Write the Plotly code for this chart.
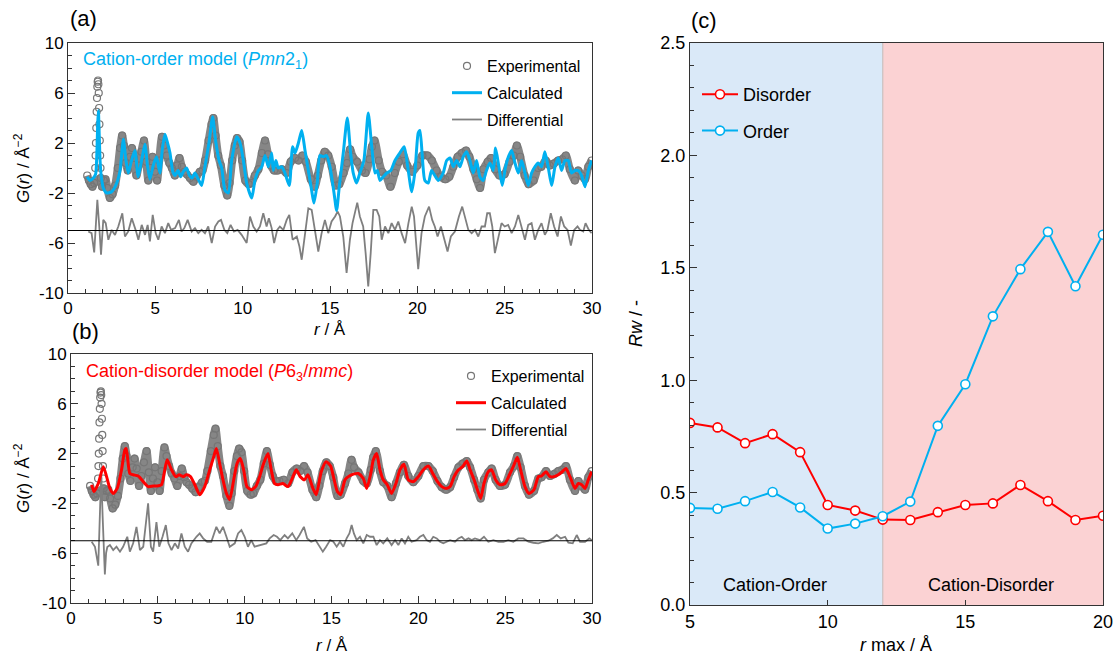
import numpy as np
import plotly.graph_objects as go

# ---------------- data ----------------
# experimental G(r): (r [Å], G)
EXP = [(1.10,-0.6),(1.20,-1.0),(1.30,-1.3),(1.40,-1.5),(1.50,-1.2),(1.56,0.0),(1.58,1.0),(1.60,2.0),
(1.62,3.2),(1.64,4.5),(1.66,5.6),(1.68,6.5),(1.70,6.9),(1.72,7.0),(1.74,6.7),(1.76,6.0),(1.78,4.8),
(1.80,3.5),(1.82,2.2),(1.84,1.0),(1.86,0.0),(1.88,-0.8),(1.95,-1.5),(2.05,-1.0),(2.15,-0.9),(2.25,-1.6),
(2.40,-2.4),(2.55,-2.1),(2.70,-1.4),(2.85,0.0),(2.98,1.6),(3.10,2.6),(3.20,1.8),(3.30,0.4),(3.42,-0.2),
(3.55,0.9),(3.66,1.6),(3.78,0.8),(3.92,-0.6),(4.05,0.2),(4.20,1.3),(4.35,2.2),(4.48,0.5),(4.60,-1.0),
(4.72,0.0),(4.84,0.9),(4.98,-0.3),(5.10,-1.0),(5.22,0.6),(5.38,2.5),(5.50,1.8),(5.65,1.0),(5.80,0.4),
(5.95,0.0),(6.12,-0.6),(6.25,0.2),(6.38,0.8),(6.52,0.1),(6.65,-0.3),(6.80,-0.5),(6.98,-0.8),(7.18,-1.1),
(7.35,-0.7),(7.55,-0.3),(7.70,-0.2),(7.85,0.6),(8.05,2.2),(8.22,3.5),(8.32,4.0),(8.45,2.6),(8.60,1.0),
(8.75,0.2),(8.95,-1.4),(9.12,-2.2),(9.25,-1.2),(9.40,0.6),(9.55,1.8),(9.68,2.4),(9.82,2.1),(9.97,0.6),
(10.15,-1.0),(10.35,-1.3),(10.50,-1.2),(10.70,-0.6),(10.90,-0.1),(11.10,1.2),(11.28,2.2),(11.45,1.1),
(11.62,0.2),(11.80,-0.2),(12.00,-0.2),(12.25,-0.1),(12.50,-0.4),(12.75,0.5),(13.00,0.8),(13.20,0.6),
(13.42,1.0),(13.62,0.5),(13.90,-0.9),(14.12,-1.5),(14.30,-0.6),(14.50,0.6),(14.70,1.3),(14.90,1.0),
(15.10,0.1),(15.34,-1.4),(15.53,-1.3),(15.78,-0.4),(15.97,0.4),(16.15,1.5),(16.30,0.9),(16.55,0.5),
(16.83,-0.2),(17.03,-0.4),(17.26,0.7),(17.40,1.7),(17.55,2.2),(17.79,0.6),(17.98,-0.3),(18.21,-0.6),
(18.46,-1.5),(18.71,-0.4),(18.94,0.5),(19.17,1.1),(19.42,0.2),(19.71,-0.3),(20.00,0.2),(20.29,1.0),
(20.58,1.0),(20.83,0.6),(21.10,-0.2),(21.35,-0.7),(21.60,-0.9),(21.83,-0.7),(22.06,0.1),(22.31,0.9),
(22.55,1.2),(22.79,1.4),(22.98,0.9),(23.21,-0.1),(23.40,-0.9),(23.59,-1.6),(23.78,-0.1),(24.03,0.5),
(24.22,0.8),(24.45,-0.1),(24.70,-0.6),(24.99,-0.5),(25.28,0.5),(25.51,1.0),(25.70,1.8),(25.89,0.9),
(26.14,-0.6),(26.37,-1.3),(26.66,-1.0),(26.91,0.0),(27.10,0.1),(27.35,0.6),(27.58,0.2),(27.81,0.35),
(28.06,0.6),(28.29,0.7),(28.50,1.0),(28.73,-0.1),(29.02,-1.0),(29.21,-0.2),(29.41,-0.6),(29.60,-0.9),
(29.79,0.1),(29.98,0.6)]

# calculated G(r), cation-order model (Pmn2_1)
CALC_ORDER = [(1.10,-0.7),(1.26,-1.0),(1.45,-0.8),(1.58,-0.5),(1.66,1.5),(1.70,3.5),(1.74,4.6),(1.78,3.0),
(1.84,0.5),(1.90,-0.6),(2.02,-1.6),(2.21,-2.0),(2.50,-1.9),(2.79,-1.2),(2.98,-0.2),(3.17,2.3),(3.30,0.8),
(3.45,-0.4),(3.62,0.5),(3.83,1.4),(4.02,-0.7),(4.20,0.5),(4.40,1.9),(4.55,0.2),(4.69,-0.9),(4.88,0.2),
(5.07,0.9),(5.26,-0.4),(5.40,1.5),(5.55,2.7),(5.70,2.0),(5.84,1.2),(6.00,-0.3),(6.13,-0.6),(6.30,-0.2),
(6.45,-0.7),(6.60,-0.3),(6.79,0.0),(6.95,-0.6),(7.10,-0.8),(7.27,-0.4),(7.46,-0.9),(7.65,-1.4),(7.84,0.1),
(8.07,2.0),(8.28,4.1),(8.45,2.2),(8.65,0.6),(8.80,0.0),(8.99,-1.8),(9.18,-2.0),(9.37,0.6),(9.66,2.5),
(9.85,2.0),(10.04,0.6),(10.23,-1.2),(10.52,-2.4),(10.70,-1.0),(10.90,-0.2),(11.09,0.1),(11.28,1.0),
(11.47,0.1),(11.66,1.2),(11.75,-0.2),(11.90,0.6),(12.04,0.0),(12.23,0.1),(12.42,-0.4),(12.67,-1.4),
(12.86,1.7),(13.00,1.2),(13.19,2.0),(13.38,3.0),(13.57,1.4),(13.76,-0.2),(13.95,-1.8),(14.08,-2.8),
(14.27,-1.2),(14.42,1.0),(14.61,0.9),(14.80,1.0),(15.00,0.1),(15.23,-2.0),(15.38,-3.4),(15.53,-1.5),
(15.76,1.2),(15.99,4.0),(16.18,1.2),(16.33,-0.4),(16.52,-1.2),(16.71,-0.4),(16.94,0.6),(17.19,4.4),
(17.39,1.7),(17.58,-0.4),(17.71,-0.2),(17.86,-1.0),(18.05,-0.7),(18.25,-0.4),(18.48,-0.2),(18.72,0.6),
(19.00,1.2),(19.25,1.7),(19.45,0.1),(19.68,-1.9),(19.87,-0.2),(20.05,2.8),(20.15,3.0),(20.30,0.6),
(20.43,-1.0),(20.63,-1.2),(20.81,-0.2),(21.00,-0.6),(21.20,-1.0),(21.48,-0.4),(21.68,0.6),(21.87,0.8),
(22.06,0.1),(22.25,0.6),(22.44,0.1),(22.63,0.9),(22.82,1.3),(23.01,0.6),(23.20,-0.4),(23.39,0.6),
(23.58,-0.7),(23.77,-1.0),(23.96,-0.2),(24.15,0.4),(24.35,-0.2),(24.48,1.6),(24.67,0.1),(24.86,-1.4),
(25.05,0.1),(25.24,1.0),(25.40,1.4),(25.59,0.4),(25.78,-0.4),(25.97,0.6),(26.16,-0.4),(26.35,-1.4),
(26.54,-0.4),(26.73,0.1),(26.92,0.4),(27.11,0.1),(27.30,1.3),(27.49,0.1),(27.69,-1.4),(27.88,0.1),
(28.07,0.8),(28.26,-0.2),(28.45,0.6),(28.64,0.6),(28.83,-0.4),(29.02,-0.2),(29.21,-0.2),(29.40,-0.6),
(29.60,-1.5),(29.79,-0.2),(29.98,0.6)]

# differential curve of panel (a), as drawn (shifted to the -5 baseline)
DIFF_ORDER = [(1.16,-5.08),(1.35,-5.21),(1.50,-6.76),(1.68,-2.55),(1.79,-4.68),(1.89,-6.94),(2.02,-4.15),
(2.16,-4.41),(2.31,-5.74),(2.50,-4.95),(2.69,-5.35),(2.88,-4.68),(3.11,-3.62),(3.26,-5.48),(3.45,-5.08),
(3.65,-4.02),(3.87,-4.95),(4.03,-5.74),(4.22,-4.55),(4.41,-5.35),(4.56,-4.55),(4.69,-5.88),(4.85,-3.75),
(5.02,-5.21),(5.17,-5.74),(5.36,-4.68),(5.55,-5.21),(5.74,-4.41),(5.90,-4.95),(6.13,-4.81),(6.35,-4.15),
(6.50,-5.08),(6.66,-4.81),(6.85,-4.15),(7.08,-5.08),(7.27,-4.81),(7.46,-5.21),(7.65,-4.95),(7.84,-5.21),
(8.03,-4.68),(8.23,-6.01),(8.42,-4.68),(8.61,-4.28),(8.76,-4.15),(8.95,-4.95),(9.12,-5.21),(9.31,-4.55),
(9.50,-5.08),(9.71,-4.95),(9.94,-5.35),(10.23,-6.0),(10.42,-3.88),(10.61,-4.68),(10.80,-5.08),
(10.99,-4.68),(11.18,-3.62),(11.37,-4.68),(11.50,-4.02),(11.66,-4.81),(11.80,-6.01),(11.98,-4.95),
(12.13,-4.68),(12.33,-4.95),(12.52,-4.15),(12.67,-3.75),(12.86,-5.74),(13.10,-5.48),(13.25,-6.28),
(13.38,-7.34),(13.57,-5.21),(13.76,-3.22),(13.95,-3.35),(14.14,-4.95),(14.33,-6.68),(14.52,-5.21),
(14.71,-4.15),(14.90,-5.21),(15.09,-4.28),(15.29,-3.88),(15.44,-3.48),(15.57,-3.88),(15.76,-5.48),
(15.95,-8.40),(16.14,-5.74),(16.29,-4.41),(16.43,-3.62),(16.56,-2.77),(16.71,-3.88),(16.90,-4.68),
(17.04,-6.81),(17.19,-9.47),(17.33,-6.81),(17.48,-3.35),(17.67,-3.35),(17.82,-3.88),(17.96,-5.74),
(18.15,-4.68),(18.34,-5.21),(18.53,-4.41),(18.72,-4.95),(18.91,-4.28),(19.10,-5.21),(19.30,-6.01),
(19.49,-4.41),(19.68,-3.09),(19.81,-3.88),(20.05,-8.1),(20.24,-5.21),(20.43,-3.88),(20.67,-3.09),
(20.85,-4.15),(21.00,-4.68),(21.16,-5.48),(21.35,-4.68),(21.54,-5.74),(21.73,-6.68),(21.92,-5.48),
(22.15,-5.08),(22.38,-3.88),(22.57,-3.09),(22.77,-4.15),(22.92,-4.95),(23.11,-5.21),(23.30,-4.95),
(23.49,-5.48),(23.68,-4.68),(23.87,-4.68),(24.00,-3.62),(24.15,-3.62),(24.29,-4.68),(24.44,-6.81),
(24.63,-5.48),(24.82,-4.41),(25.00,-4.68),(25.20,-4.55),(25.40,-5.21),(25.59,-4.68),(25.78,-3.75),
(25.97,-4.68),(26.16,-5.74),(26.35,-4.55),(26.54,-4.41),(26.73,-5.74),(26.92,-4.95),(27.11,-4.41),
(27.30,-5.35),(27.45,-4.95),(27.64,-3.62),(27.83,-4.68),(28.03,-5.48),(28.22,-3.88),(28.41,-4.68),
(28.60,-4.95),(28.79,-6.2),(28.98,-4.95),(29.17,-4.68),(29.31,-4.95),(29.50,-5.08),(29.63,-4.41),
(29.82,-4.95),(29.98,-5.21)]

# calculated G(r), cation-disorder model (P6_3/mmc)
CALC_DISORDER = [(1.19,-0.5),(1.32,-1.05),(1.57,-0.4),(1.86,0.95),(2.05,0.15),(2.24,-0.8),(2.43,-1.2),
(2.66,-0.8),(2.91,0.7),(3.10,2.3),(3.18,2.4),(3.39,0.4),(3.58,0.3),(3.87,0.2),(4.16,-0.25),(4.44,-0.65),
(4.73,-0.6),(4.96,-0.6),(5.21,-0.5),(5.40,0.7),(5.54,1.5),(5.79,0.7),(6.03,0.15),(6.23,0.3),(6.46,0.15),
(6.65,0.3),(6.88,0.15),(7.13,-0.5),(7.41,-1.3),(7.70,-0.65),(7.99,0.7),(8.22,1.75),(8.37,2.4),(8.56,1.2),
(8.75,-0.1),(8.95,-1.2),(9.14,-1.7),(9.37,-0.1),(9.56,1.2),(9.75,1.6),(9.94,0.7),(10.13,-0.65),
(10.38,-0.9),(10.63,-0.65),(10.86,0.15),(11.09,1.2),(11.34,2.0),(11.53,0.7),(11.72,-0.4),(11.92,-0.5),
(12.20,-0.4),(12.49,-0.65),(12.74,0.0),(12.97,0.7),(13.20,0.15),(13.45,-0.1),(13.64,0.3),(13.93,-0.8),
(14.12,-1.3),(14.41,0.55),(14.69,1.35),(14.95,1.0),(15.11,0.15),(15.34,-1.05),(15.53,-1.3),(15.78,-0.1),
(15.97,0.15),(16.26,0.35),(16.55,0.4),(16.83,0.0),(17.03,-0.8),(17.26,0.4),(17.41,1.5),(17.60,2.0),
(17.79,0.7),(17.98,-0.1),(18.21,-0.5),(18.46,-1.2),(18.71,-0.4),(18.94,0.7),(19.17,1.15),(19.42,-0.1),
(19.71,-0.25),(20.00,0.15),(20.29,0.7),(20.58,1.0),(20.83,0.4),(21.10,-0.25),(21.35,-0.65),(21.60,-0.8),
(21.83,-0.65),(22.06,0.15),(22.31,0.7),(22.55,0.95),(22.79,1.4),(22.98,0.7),(23.21,-0.1),(23.40,-0.9),
(23.59,-1.6),(23.78,-0.4),(24.03,0.55),(24.22,0.7),(24.45,-0.1),(24.70,-0.5),(24.99,-0.4),(25.28,0.4),
(25.51,1.1),(25.70,1.7),(25.89,0.7),(26.14,-0.65),(26.37,-1.2),(26.66,-0.9),(26.91,0.15),(27.10,0.2),
(27.35,0.55),(27.58,0.15),(27.81,0.15),(28.06,0.3),(28.29,0.55),(28.50,0.8),(28.73,0.15),(29.02,-0.8),
(29.21,-0.4),(29.41,-0.5),(29.60,-0.8),(29.79,-0.1),(29.98,0.55)]

# differential curve of panel (b), as drawn (shifted to the -5 baseline)
DIFF_DISORDER = [(1.19,-5.08),(1.38,-5.48),(1.57,-7.0),(1.66,-3.0),(1.74,0.5),(1.82,-3.0),(1.90,-7.0),
(1.95,-7.7),(2.02,-6.0),(2.09,-5.5),(2.24,-5.35),(2.43,-5.75),(2.62,-5.48),(2.82,-5.88),(3.00,-5.48),
(3.24,-4.68),(3.39,-5.88),(3.58,-5.21),(3.77,-3.88),(3.97,-5.75),(4.16,-5.48),(4.44,-2.0),(4.60,-5.48),
(4.73,-5.88),(4.92,-3.5),(5.08,-5.48),(5.27,-4.68),(5.46,-3.74),(5.61,-5.21),(5.79,-5.75),(5.98,-5.21),
(6.17,-5.62),(6.36,-4.41),(6.55,-5.48),(6.74,-5.88),(6.93,-5.21),(7.22,-4.68),(7.41,-4.41),(7.61,-4.81),
(7.84,-5.08),(8.08,-5.08),(8.37,-3.88),(8.56,-4.41),(8.75,-3.88),(8.95,-4.68),(9.14,-5.48),(9.43,-5.21),
(9.62,-4.41),(9.81,-4.14),(10.00,-4.68),(10.19,-5.48),(10.38,-4.95),(10.57,-5.48),(10.86,-5.35),
(11.25,-5.21),(11.44,-4.81),(11.67,-4.54),(11.86,-4.68),(12.05,-4.95),(12.30,-4.54),(12.49,-4.81),
(12.74,-4.41),(12.97,-4.95),(13.16,-4.54),(13.41,-3.88),(13.60,-4.81),(13.83,-5.08),(14.08,-4.95),
(14.27,-5.35),(14.50,-5.88),(14.69,-5.48),(14.92,-4.95),(15.11,-5.08),(15.30,-5.48),(15.49,-5.08),
(15.68,-5.48),(15.87,-4.81),(16.03,-4.41),(16.16,-3.74),(16.29,-4.41),(16.45,-4.95),(16.64,-4.68),
(16.83,-5.21),(17.03,-4.54),(17.22,-4.68),(17.41,-4.68),(17.60,-5.35),(17.79,-4.95),(17.98,-5.21),
(18.21,-4.81),(18.46,-5.35),(18.66,-4.95),(18.85,-5.35),(19.04,-4.81),(19.23,-5.21),(19.42,-4.68),
(19.61,-5.08),(19.90,-4.95),(20.09,-4.68),(20.29,-4.54),(20.48,-4.95),(20.67,-5.08),(20.86,-4.68),
(21.06,-4.81),(21.25,-5.08),(21.44,-5.21),(21.63,-5.08),(21.83,-4.95),(22.11,-5.08),(22.31,-4.81),
(22.50,-4.68),(22.69,-4.95),(22.89,-4.81),(23.07,-4.95),(23.26,-4.81),(23.55,-4.95),(23.78,-4.68),
(24.03,-5.08),(24.32,-4.95),(24.61,-5.08),(24.90,-5.08),(25.18,-4.95),(25.47,-5.08),(25.76,-4.81),
(26.05,-4.81),(26.34,-5.08),(26.62,-5.16),(26.91,-5.21),(27.20,-5.08),(27.49,-5.0),(27.74,-4.81),
(27.97,-4.54),(28.20,-4.81),(28.45,-4.68),(28.64,-5.16),(28.89,-5.21),(29.12,-4.54),(29.31,-5.08),
(29.60,-5.08),(29.85,-4.81),(29.98,-4.95)]

DIFF_BASELINE = -5

# panel (c): Rw versus r max
RMAX = [5, 6, 7, 8, 9, 10, 11, 12, 13, 14, 15, 16, 17, 18, 19, 20]
RW_DISORDER = [0.81, 0.79, 0.72, 0.76, 0.68, 0.445, 0.42, 0.38, 0.378, 0.413, 0.445, 0.452, 0.534, 0.462, 0.378, 0.397]
RW_ORDER = [0.432, 0.428, 0.462, 0.503, 0.434, 0.34, 0.362, 0.395, 0.46, 0.797, 0.982, 1.284, 1.494, 1.66, 1.418, 1.647]
ORDER_REGION = (5, 12)
DISORDER_REGION = (12, 20)

G_TICKS = [-10, -6, -2, 2, 6, 10]
G_TICK_TEXT = ["-10", "-6", "-2", "2", "6", "10"]

# ---------------- styling ----------------
W, H = 1118, 655
FONT = "Liberation Sans, Arial, Helvetica, sans-serif"
BLUE = "#00B0F0"
RED = "#FF0000"
GREY = "#7f7f7f"

def xd(a, b):
    return [a / W, b / W]

def yd(top, bottom):
    return [1 - bottom / H, 1 - top / H]

def unzip(pts):
    a = np.array(pts, dtype=float)
    return a[:, 0], a[:, 1]

r_exp, g_exp = unzip(EXP)
r_co, g_co = unzip(CALC_ORDER)
r_do, g_do = unzip(DIFF_ORDER)
r_cd, g_cd = unzip(CALC_DISORDER)
r_dd, g_dd = unzip(DIFF_DISORDER)

band_mask = (r_exp < 1.53) | (r_exp > 1.87)

fig = go.Figure()

def add_gr_panel(xa, ya, leg, calc_r, calc_g, calc_color, diff_r, diff_g, grp):
    fig.add_trace(go.Scatter(x=r_exp[band_mask], y=g_exp[band_mask], mode="lines",
                             line=dict(color="#868686", width=8, shape="spline", smoothing=0.7),
                             xaxis=xa, yaxis=ya, showlegend=False, hoverinfo="skip"))
    fig.add_trace(go.Scatter(x=r_exp, y=g_exp, mode="markers", name="Experimental",
                             marker=dict(symbol="circle-open", size=7, color="#767676", line=dict(width=1.2)),
                             xaxis=xa, yaxis=ya, legend=leg, legendgroup=grp + "1", legendrank=1))
    fig.add_trace(go.Scatter(x=diff_r, y=diff_g, mode="lines", name="Differential",
                             line=dict(color=GREY, width=1.8),
                             xaxis=xa, yaxis=ya, legend=leg, legendgroup=grp + "3", legendrank=3))
    fig.add_trace(go.Scatter(x=calc_r, y=calc_g, mode="lines", name="Calculated",
                             line=dict(color=calc_color, width=3, shape="spline", smoothing=0.6),
                             xaxis=xa, yaxis=ya, legend=leg, legendgroup=grp + "2", legendrank=2))

add_gr_panel("x", "y", "legend", r_co, g_co, BLUE, r_do, g_do, "a")
add_gr_panel("x2", "y2", "legend2", r_cd, g_cd, RED, r_dd, g_dd, "b")

fig.add_trace(go.Scatter(x=RMAX, y=RW_DISORDER, mode="lines+markers", name="Disorder",
                         line=dict(color=RED, width=2),
                         marker=dict(symbol="circle", size=9, color="white", line=dict(color=RED, width=1.6)),
                         xaxis="x3", yaxis="y3", legend="legend3", legendgroup="c1", legendrank=1))
fig.add_trace(go.Scatter(x=RMAX, y=RW_ORDER, mode="lines+markers", name="Order",
                         line=dict(color=BLUE, width=2),
                         marker=dict(symbol="circle", size=9, color="white", line=dict(color=BLUE, width=1.6)),
                         xaxis="x3", yaxis="y3", legend="legend3", legendgroup="c2", legendrank=2))

axis_common = dict(showline=True, linecolor="#333333", linewidth=1, mirror=True, showgrid=False,
                   zeroline=False, automargin=False, ticks="inside", tickcolor="#333333",
                   tickfont=dict(size=17, color="black", family=FONT))

def gr_xaxis(domain, anchor):
    return dict(axis_common, domain=domain, anchor=anchor, range=[0, 30], tickmode="linear",
                tick0=0, dtick=5, ticklen=7,
                minor=dict(tickmode="linear", tick0=0, dtick=1, ticks="inside", ticklen=4, tickcolor="#333333"))

def gr_yaxis(domain, anchor):
    return dict(axis_common, domain=domain, anchor=anchor, range=[-10, 10], tickmode="array",
                tickvals=G_TICKS, ticktext=G_TICK_TEXT, ticklen=7,
                minor=dict(tickmode="linear", tick0=-10, dtick=1, ticks="inside", ticklen=4, tickcolor="#333333"))

c_font = dict(size=18, color="black", family=FONT)

fig.update_layout(
    width=W, height=H, margin=dict(l=0, r=0, t=0, b=0),
    paper_bgcolor="white", plot_bgcolor="white",
    font=dict(family=FONT, color="black"),
    xaxis=gr_xaxis(xd(68, 592), "y"),
    yaxis=gr_yaxis(yd(43, 293), "x"),
    xaxis2=gr_xaxis(xd(71, 592), "y2"),
    yaxis2=gr_yaxis(yd(354, 603), "x2"),
    xaxis3=dict(axis_common, domain=xd(690, 1103), anchor="y3", range=[5, 20], tickmode="linear",
                tick0=5, dtick=5, ticklen=5, tickfont=c_font),
    yaxis3=dict(axis_common, domain=yd(43, 605), anchor="x3", range=[0, 2.5], tickmode="linear",
                tick0=0, dtick=0.5, tickformat=".1f", ticklen=7, tickfont=c_font,
                minor=dict(tickmode="linear", tick0=0, dtick=0.1, ticks="inside", ticklen=4, tickcolor="#333333")),
    legend=dict(x=447 / W, y=1 - 49 / H, xanchor="left", yanchor="top", bgcolor="rgba(0,0,0,0)",
                font=dict(size=16, family=FONT, color="black"), tracegroupgap=3, itemwidth=30),
    legend2=dict(x=451 / W, y=1 - 359 / H, xanchor="left", yanchor="top", bgcolor="rgba(0,0,0,0)",
                 font=dict(size=16, family=FONT, color="black"), tracegroupgap=3, itemwidth=30),
    legend3=dict(x=697 / W, y=1 - 76 / H, xanchor="left", yanchor="top", bgcolor="rgba(0,0,0,0)",
                 font=dict(size=18, family=FONT, color="black"), tracegroupgap=10, itemwidth=36),
    showlegend=True,
)

# shaded regions in panel (c)
fig.add_shape(type="rect", xref="x3", yref="y3", x0=ORDER_REGION[0], x1=ORDER_REGION[1], y0=0, y1=2.5,
              fillcolor="#DAE9F8", line=dict(width=0), layer="below")
fig.add_shape(type="rect", xref="x3", yref="y3", x0=DISORDER_REGION[0], x1=DISORDER_REGION[1], y0=0, y1=2.5,
              fillcolor="#FBD2D3", line=dict(width=0), layer="below")
fig.add_shape(type="line", xref="x3", yref="y3", x0=ORDER_REGION[1], x1=ORDER_REGION[1], y0=0, y1=2.5,
              line=dict(color="#c9c0c0", width=1.2), layer="below")

# differential baselines
for xa, ya in (("x", "y"), ("x2", "y2")):
    fig.add_shape(type="line", xref=xa + " domain", yref=ya, x0=0, x1=1, y0=DIFF_BASELINE, y1=DIFF_BASELINE,
                  line=dict(color="black", width=1.2))

ann = []
def add_text(text, x, y, size, color="black", xanchor="center", yanchor="middle", angle=0, xref="paper", yref="paper"):
    ann.append(dict(text=text, x=x, y=y, xref=xref, yref=yref, showarrow=False, xanchor=xanchor,
                    yanchor=yanchor, textangle=angle, font=dict(size=size, color=color, family=FONT)))

add_text("(a)", 68 / W, 1 - 19 / H, 22, xanchor="left")
add_text("(b)", 70 / W, 1 - 331 / H, 22, xanchor="left")
add_text("(c)", 689 / W, 1 - 20 / H, 22, xanchor="left")
add_text("Cation-order model (<i>Pmn</i>2<sub>1</sub>)", 81 / W, 1 - 60 / H, 18, BLUE, xanchor="left")
add_text("Cation-disorder model (<i>P</i>6<sub>3</sub>/<i>mmc</i>)", 84 / W, 1 - 372 / H, 18, RED, xanchor="left")
add_text("<i>G</i>(<i>r</i>) / Å<sup>−2</sup>", 22 / W, 1 - 168 / H, 17, angle=-90)
add_text("<i>G</i>(<i>r</i>) / Å<sup>−2</sup>", 22 / W, 1 - 478 / H, 17, angle=-90)
add_text("<i>r</i> / Å", 330 / W, 1 - 329 / H, 17)
add_text("<i>r</i> / Å", 332 / W, 1 - 645 / H, 17)
add_text("<i>r</i> max / Å", 896 / W, 1 - 645 / H, 18)
add_text("<i>Rw</i> / -", 636 / W, 1 - 324 / H, 18, angle=-90)
add_text("Cation-Order", 8.1, 0.09, 18, xref="x3", yref="y3")
add_text("Cation-Disorder", 15.95, 0.09, 18, xref="x3", yref="y3")
fig.update_layout(annotations=ann)

fig.write_html("out.html")
